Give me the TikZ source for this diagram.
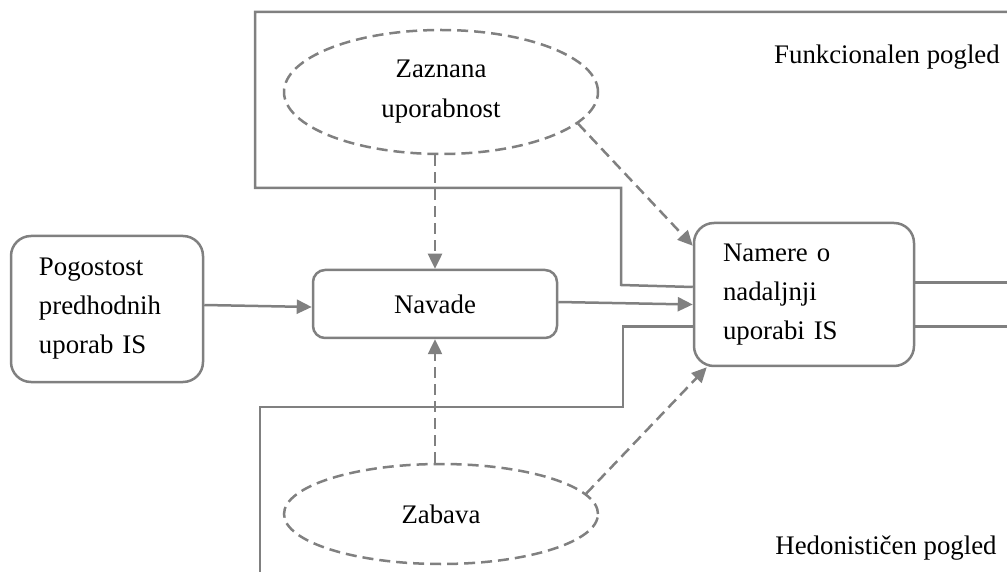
\documentclass[tikz,border=0pt]{standalone}
\usepackage{fontspec}
\setmainfont{Liberation Serif}
\usetikzlibrary{arrows.meta,shapes.geometric,calc}
\definecolor{linegray}{RGB}{128,128,128}
\begin{document}
\begin{tikzpicture}[x=0.5pt,y=-0.5pt,
  txt/.style={font=\fontsize{13.4}{19.5}\selectfont, text=black},
  conn/.style={draw=linegray, line width=1.25pt},
  arr/.style={conn, -{Triangle[length=7.5pt,width=7pt]}},
  dsh/.style={dash pattern=on 5.5pt off 3pt},
  rbox/.style={txt, conn, rectangle, rounded corners=#1, inner sep=0pt},
  ell/.style={txt, conn, dsh, ellipse, inner sep=0pt, align=center},
]
\useasboundingbox (0,0) rectangle (1007,572);

% boxes
\node[rbox=10pt, minimum width=96pt, minimum height=73pt,
      text width=68pt, align=left, inner xsep=14pt] (pog) at (107,309)
      {Pogostost\\predhodnih\\uporab IS};
\node[rbox=6pt, minimum width=122pt, minimum height=34pt] (nav) at (435,304) {Navade};
\node[rbox=10pt, minimum width=110pt, minimum height=71.5pt,
      text width=81pt, align=left, inner xsep=14.5pt] (nam) at (804,294.5)
      {Namere o\\nadaljnji\\uporabi IS};

% ellipses
\node[ell, minimum width=157pt, minimum height=62pt] (zaz) at (441,92) {Zaznana\\[0.5pt]uporabnost};
\node[ell, minimum width=157pt, minimum height=50pt] (zab) at (441,514) {Zabava};

% view labels
\node[txt] (fun) at (887,57) {Funkcionalen pogled};
\node[txt] (hed) at (886,548) {Hedonističen pogled};

% frame of the functional view
\coordinate (tr) at (1007,12);
\coordinate (tl) at (255,12);
\coordinate (fl) at (255,188);
\coordinate (fr) at (621,188);
\coordinate (fj) at (621,285);
\draw[conn] (tr) -- (tl) -- (fl) -- (fr) -- (fj) -- ($(nam.west)+(0,3.75pt)$);

% frame of the hedonic view
\coordinate (bj) at (623,326.5);
\coordinate (br) at (623,407);
\coordinate (bl) at (260,407);
\coordinate (bb) at (260,572);
\draw[conn] ($(nam.west)+(0,-16pt)$) -- (bj) -- (br) -- (bl) -- (bb);

% outgoing lines
\coordinate (ra) at (1007,282.5);
\coordinate (rb) at (1007,326.5);
\draw[conn] ($(nam.east)+(0,6pt)$) -- (ra);
\draw[conn] ($(nam.east)+(0,-16pt)$) -- (rb);

% solid arrows
\draw[arr] ($(pog.east)+(0,2pt)$) -- ($(nav.west)+(0,-1.5pt)$);
\draw[arr] ($(nav.east)+(0,1pt)$) -- ($(nam.west)+(0,-5pt)$);

% dashed arrows
\draw[arr, dsh] (nav.north |- zaz.south) -- (nav.north);
\draw[arr, dsh] (nav.south |- zab.north) -- (nav.south);
\draw[arr, dsh] (zaz.-13) -- ($(nam.north west)+(0,-12pt)$);
\draw[arr, dsh] (zab.8) -- ($(nam.south west)+(7pt,0)$);
\end{tikzpicture}
\end{document}
